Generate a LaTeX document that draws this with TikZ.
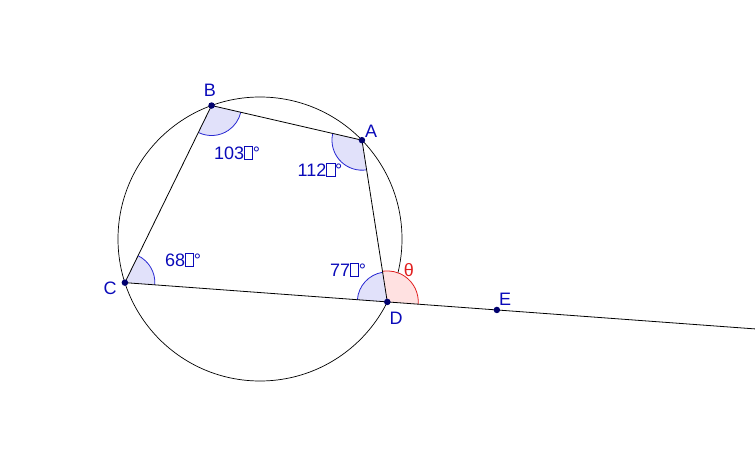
\documentclass[tikz,border=0pt]{standalone}
\usepackage{fontspec}
\setmainfont{Liberation Sans}
\usetikzlibrary{calc,angles}
\definecolor{ptblue}{RGB}{0,0,110}
\definecolor{lblblue}{RGB}{10,10,185}
\definecolor{arcblue}{RGB}{40,40,210}
\definecolor{wedgeblue}{RGB}{225,225,250}
\definecolor{arcred}{RGB}{225,30,30}
\definecolor{wedgered}{RGB}{255,225,225}
\newcommand{\tofu}{{\setlength{\fboxsep}{0pt}\setlength{\fboxrule}{0.6pt}\fbox{\rule{0pt}{0.72em}\hspace{0.42em}}}}
\begin{document}
\begin{tikzpicture}[x=1pt,y=1pt,
  ptdot/.style={circle,fill=ptblue,inner sep=0pt,minimum size=6.5pt},
  ptlabel/.style={text=lblblue,font=\fontsize{18}{20}\selectfont,inner sep=0pt},
  anglabel/.style={text=lblblue,font=\fontsize{18}{20}\selectfont,inner sep=0pt},
  bluewedge/.style={draw=arcblue,fill=wedgeblue,angle radius=30pt,line width=0.8pt},
  redwedge/.style={draw=arcred,fill=wedgered,angle radius=31pt,line width=0.8pt},
  seg/.style={draw=black,line width=0.8pt}]
\useasboundingbox (0,0) rectangle (755,448);
\coordinate (O) at (260,209);
\coordinate (B) at ($(O)+(109.95:142)$);
\coordinate (A) at ($(O)+(44.1:142)$);
\coordinate (C) at ($(O)+(197.9:142)$);
\coordinate (D) at ($(O)+(-26.3:142)$);
\coordinate (E) at ($(C)!1.4176!(D)$);
\coordinate (Eend) at ($(C)!2.43!(D)$);
% circle
\draw[line width=0.7pt] (O) circle (142);
% angle wedges
\pic[bluewedge] {angle=C--B--A};
\pic[bluewedge] {angle=B--A--D};
\pic[bluewedge] {angle=D--C--B};
\pic[bluewedge] {angle=A--D--C};
\pic[redwedge] {angle=E--D--A};
% segments
\draw[seg] (C) -- (B);
\draw[seg] (B) -- (A);
\draw[seg] (A) -- (D);
\draw[seg] (C) -- (Eend);
% points
\node[ptdot] (nB) at (B) {};
\node[ptdot] (nA) at (A) {};
\node[ptdot] (nC) at (C) {};
\node[ptdot] (nD) at (D) {};
\node[ptdot] (nE) at (E) {};
% point labels
\node[ptlabel] (lB) at (210,358) {B};
\node[ptlabel] (lA) at (371,317) {A};
\node[ptlabel] (lC) at (110,160) {C};
\node[ptlabel] (lD) at (396,130) {D};
\node[ptlabel] (lE) at (505,149) {E};
% angle labels
\node[anglabel] (t103) at (237,295) {103\tofu°};
\node[anglabel] (t112) at (320,278) {112\tofu°};
\node[anglabel] (t68) at (183,188) {68\tofu°};
\node[anglabel] (t77) at (348,178) {77\tofu°};
\node[anglabel,text=arcred] (tth) at (409,178) {θ};
\end{tikzpicture}
\end{document}
